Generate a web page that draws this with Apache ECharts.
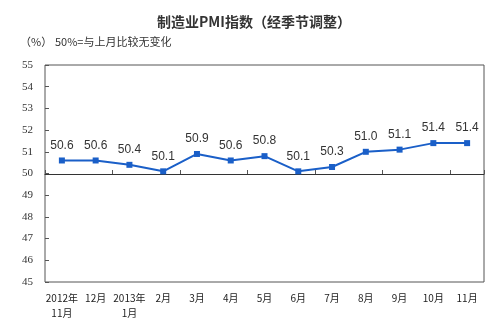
<!DOCTYPE html>
<html><head><meta charset="utf-8">
<script src="https://cdn.jsdelivr.net/npm/echarts@6/dist/echarts.min.js"></script>
<style>html,body{margin:0;padding:0;background:#fff}#c{width:491px;height:335px}</style>
</head><body><div id="c"></div>
<script>
var categories = ['2012年\n11月','12月','2013年\n1月','2月','3月','4月','5月','6月','7月','8月','9月','10月','11月'];
var pmiValues = [50.6,50.6,50.4,50.1,50.9,50.6,50.8,50.1,50.3,51.0,51.1,51.4,51.4];
var yMin = 45, yMax = 55, yMid = 50;

var chart = echarts.init(document.getElementById('c'), null, {renderer:'canvas'});
var cjk = '"Noto Sans CJK SC", sans-serif';
chart.setOption({
  animation:false,
  backgroundColor:'#fff',
  title:{text:'制造业PMI指数（经季节调整）', left:152, top:10,
    textStyle:{fontFamily:cjk, fontSize:14, fontWeight:'bold', color:'#333'}},
  graphic:[
    {type:'text', left:20, top:36, style:{text:'（%）', font:'11px '+cjk, fill:'#333'}},
    {type:'text', left:55, top:36, style:{text:'50%=与上月比较无变化', font:'11px '+cjk, fill:'#333'}}
  ],
  grid:[
    {left:45, right:7, top:65, bottom:53, show:true, borderColor:'#555', borderWidth:1},
    {left:45, right:7, top:65, bottom:161}
  ],
  xAxis:[
    {type:'category', gridIndex:0, data:categories, boundaryGap:true,
     axisLine:{show:false}, axisTick:{show:false},
     axisLabel:{margin:9, fontFamily:cjk, fontSize:10, color:'#222', lineHeight:15, interval:0}},
    {type:'category', gridIndex:1, data:categories, boundaryGap:true,
     axisLine:{show:true, lineStyle:{color:'#333', width:1}},
     axisTick:{show:true, inside:true, length:4, lineStyle:{color:'#555'}},
     axisLabel:{show:false}}
  ],
  yAxis:[
    {type:'value', gridIndex:0, min:yMin, max:yMax, interval:1,
     axisLine:{show:false}, splitLine:{show:false},
     axisTick:{show:true, inside:true, length:4, lineStyle:{color:'#555'}},
     axisLabel:{margin:12, fontFamily:'"Liberation Serif", serif', fontSize:11, color:'#333'}},
    {type:'value', gridIndex:1, min:yMid, max:yMax, show:false}
  ],
  series:[{
    type:'line', xAxisIndex:0, yAxisIndex:0, data:pmiValues,
    symbol:'rect', symbolSize:6,
    lineStyle:{color:'#1a5fc8', width:2},
    itemStyle:{color:'#1a5fc8'},
    label:{show:true, position:'top', distance:6, fontFamily:'"Liberation Sans", Arial, sans-serif',
      fontSize:12, color:'#333', formatter:function(p){return p.value.toFixed(1);}}
  }]
});
</script></body></html>
